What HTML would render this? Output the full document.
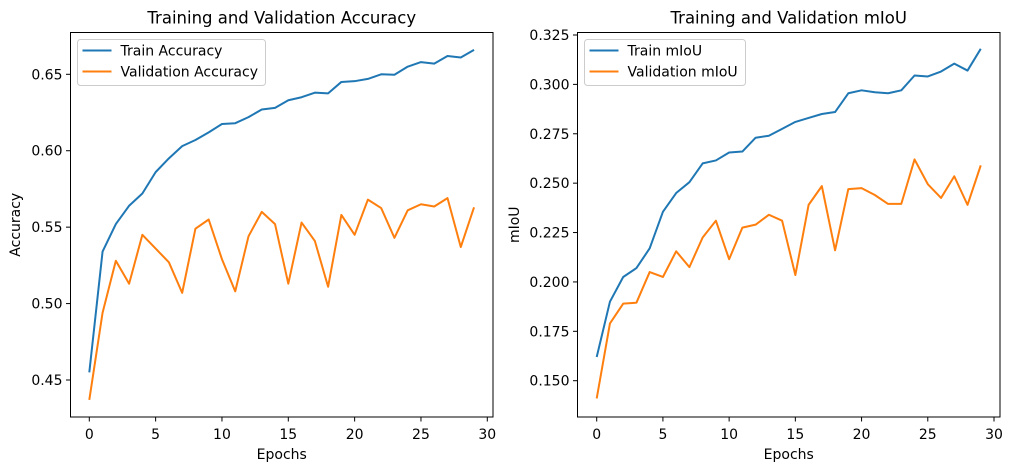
<!DOCTYPE html>
<html><head><meta charset="utf-8"><style>
body{margin:0;background:#fff;width:1012px;height:470px;overflow:hidden}
svg{font-family:"DejaVu Sans","Liberation Sans",sans-serif}
</style></head><body>
<svg id="chart" width="1012" height="470"></svg>
<script>
const epochs = Array.from({length:30},(_,i)=>i);
const trainAcc = [0.455,0.534,0.552,0.564,0.572,0.586,0.595,0.603,0.607,0.612,0.6175,0.618,0.622,0.627,0.628,0.633,0.635,0.638,0.6375,0.645,0.6455,0.647,0.650,0.6497,0.655,0.658,0.657,0.662,0.661,0.666];
const valAcc = [0.437,0.494,0.528,0.513,0.545,0.536,0.527,0.507,0.549,0.555,0.529,0.508,0.544,0.560,0.552,0.513,0.553,0.541,0.511,0.558,0.545,0.568,0.5625,0.543,0.561,0.565,0.5635,0.569,0.537,0.563];
const trainIoU = [0.162,0.190,0.2025,0.207,0.217,0.2355,0.245,0.2505,0.260,0.2615,0.2655,0.266,0.273,0.274,0.2775,0.281,0.283,0.285,0.286,0.2955,0.297,0.296,0.2955,0.297,0.3045,0.304,0.3065,0.3105,0.307,0.318];
const valIoU = [0.141,0.179,0.189,0.1895,0.205,0.2025,0.2155,0.2075,0.2225,0.231,0.2115,0.2275,0.229,0.234,0.231,0.2035,0.239,0.2485,0.216,0.247,0.2475,0.244,0.2395,0.2395,0.262,0.2495,0.2425,0.2535,0.239,0.259];
const xTicks = [0,5,10,15,20,25,30];
const accTicks = [0.45,0.50,0.55,0.60,0.65];
const iouTicks = [0.150,0.175,0.200,0.225,0.250,0.275,0.300,0.325];

const NS="http://www.w3.org/2000/svg";
const svg=document.getElementById('chart');
function mk(tag,attrs,parent){const e=document.createElementNS(NS,tag);for(const k in attrs)e.setAttribute(k,attrs[k]);(parent||svg).appendChild(e);return e;}

function panel(o){
  const g=mk('g',{});
  
  
  const X=v=>o.x0px+(v-0)*(o.x30px-o.x0px)/30;
  const Y=v=>o.ya+(v-o.va)*(o.yb-o.ya)/(o.vb-o.va);
  o.series.forEach(s=>{
    const p=mk('polyline',{points:s.vals.map((v,i)=>X(epochs[i])+','+Y(v)).join(' '),fill:'none',stroke:s.color,'stroke-width':2,'stroke-linejoin':'round'},g);
    
    
  });
  const frame=mk('rect',{x:o.L,y:o.T,width:o.R-o.L,height:o.B-o.T,fill:'none',stroke:'#000','stroke-width':1},g);
  
  
  xTicks.forEach(t=>{
    const x=X(t);
    mk('line',{x1:x,x2:x,y1:o.B,y2:o.B+4.5,stroke:'#000','stroke-width':1},g);
    const tx=mk('text',{x:x,y:o.B+22,'font-size':14,'text-anchor':'middle',fill:'#000'},g);
    tx.textContent=t;
    
    
  });
  o.yticks.forEach(t=>{
    const y=Y(t);
    mk('line',{x1:o.L-4.5,x2:o.L,y1:y,y2:y,stroke:'#000','stroke-width':1},g);
    const tx=mk('text',{x:o.L-8,y:y+5,'font-size':14,'text-anchor':'end',fill:'#000'},g);
    tx.textContent=t.toFixed(o.dec);
    
    
  });
  const ttl=mk('text',{x:(o.L+o.R)/2,y:o.T-9,'font-size':16.5,'text-anchor':'middle'},g);
  ttl.textContent=o.title;
  
  
  const xl=mk('text',{x:(o.L+o.R)/2,y:459,'font-size':14,'text-anchor':'middle'},g);
  xl.textContent='Epochs';
  
  
  const yl=mk('text',{x:0,y:0,'font-size':14,'text-anchor':'middle',transform:`translate(${o.ylx},${(o.T+o.B)/2}) rotate(-90)`},g);
  yl.textContent=o.ylabel;
  
  
  const lg=mk('g',{},g);
  
  
  mk('rect',{x:o.L+7,y:o.T+7,width:o.legW,height:46,rx:3,fill:'#fff',stroke:'#ccc','stroke-width':1},lg);
  o.series.forEach((s,i)=>{
    const y=o.T+18+i*21;
    mk('line',{x1:o.L+12,x2:o.L+41,y1:y,y2:y,stroke:s.color,'stroke-width':2},lg);
    const t=mk('text',{x:o.L+50,y:y+5,'font-size':14},lg);
    t.textContent=s.label;
    
    
  });
}
panel({key:'accuracy',L:70.5,R:493,T:32.5,B:417,x0px:89.3,x30px:487.3,ya:380,va:0.45,yb:74.3,vb:0.65,yticks:accTicks,dec:2,
  title:'Training and Validation Accuracy',ylabel:'Accuracy',ylx:20,legW:188,
  series:[{name:'train-accuracy-line',label:'Train Accuracy',vals:trainAcc,color:'#1f77b4'},{name:'validation-accuracy-line',label:'Validation Accuracy',vals:valAcc,color:'#ff7f0e'}]});
panel({key:'miou',L:577.5,R:1000,T:32.5,B:417,x0px:596.7,x30px:994,ya:380.7,va:0.150,yb:35,vb:0.325,yticks:iouTicks,dec:3,
  title:'Training and Validation mIoU',ylabel:'mIoU',ylx:519,legW:161,
  series:[{name:'train-miou-line',label:'Train mIoU',vals:trainIoU,color:'#1f77b4'},{name:'validation-miou-line',label:'Validation mIoU',vals:valIoU,color:'#ff7f0e'}]});
</script>
</body></html>
